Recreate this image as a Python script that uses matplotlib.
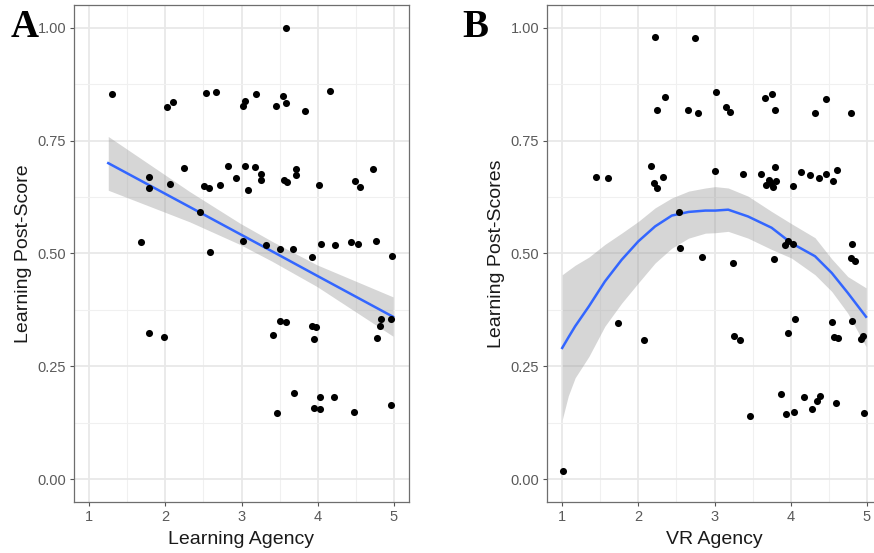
import numpy as np
import matplotlib.pyplot as plt
from matplotlib.ticker import MultipleLocator

# panel A: learning agency vs post-score
agency_a = [1.30, 3.58, 2.53, 2.67, 2.02, 2.10, 3.02, 3.04, 3.19, 3.45, 3.55, 3.58, 3.84, 4.16,
            1.79, 1.79, 2.06, 2.25, 2.51, 2.57, 2.72, 2.82, 2.93, 3.04, 3.08, 3.18, 3.26, 3.26,
            3.56, 3.60, 3.71, 3.72, 4.02, 4.49, 4.56, 4.73,
            2.45, 1.68, 2.59, 3.02, 3.32, 3.51, 3.67, 3.92, 4.04, 4.23, 4.44, 4.53, 4.76, 4.98,
            1.78, 1.98, 3.41, 3.50, 3.58, 3.92, 3.98, 3.95, 4.83, 4.82, 4.96, 4.78,
            3.69, 4.03, 4.21, 3.95, 4.03, 3.47, 4.48, 4.96]
score_a = [0.853, 0.998, 0.856, 0.857, 0.824, 0.835, 0.827, 0.837, 0.852, 0.826, 0.849, 0.832, 0.816, 0.859,
           0.669, 0.644, 0.654, 0.690, 0.649, 0.646, 0.652, 0.694, 0.668, 0.693, 0.641, 0.692, 0.675, 0.662,
           0.663, 0.659, 0.687, 0.673, 0.651, 0.660, 0.647, 0.687,
           0.592, 0.526, 0.504, 0.528, 0.519, 0.509, 0.509, 0.493, 0.520, 0.519, 0.525, 0.520, 0.527, 0.495,
           0.325, 0.316, 0.320, 0.351, 0.348, 0.340, 0.338, 0.311, 0.354, 0.340, 0.356, 0.314,
           0.191, 0.182, 0.182, 0.159, 0.155, 0.148, 0.150, 0.165]

# linear smooth of panel A
fit_x_a = [1.25, 2.32, 2.98, 3.40, 3.99, 4.99]
fit_y_a = [0.700, 0.603, 0.543, 0.505, 0.451, 0.360]
fit_hi_a = [0.759, 0.637, 0.567, 0.527, 0.475, 0.404]
fit_lo_a = [0.640, 0.570, 0.520, 0.483, 0.427, 0.317]

# panel B: VR agency vs post-scores
agency_b = [2.22, 2.75, 3.02, 2.35, 2.25, 2.65, 2.78, 3.15, 3.21, 3.66, 3.76, 3.80, 4.32, 4.46, 4.79,
            1.44, 1.60, 2.17, 2.21, 2.25, 2.33, 3.00, 3.38, 3.61, 3.67, 3.72, 3.74, 3.77, 3.80, 3.81,
            4.03, 4.13, 4.26, 4.37, 4.46, 4.56, 4.61,
            2.53, 2.55, 2.83, 3.24, 3.78, 3.93, 3.96, 4.03, 4.81, 4.79, 4.84,
            1.01, 1.73, 2.07, 3.26, 3.33, 3.96, 4.06, 4.54, 4.57, 4.62, 4.80, 4.95, 4.93,
            3.87, 4.18, 4.38, 4.35, 4.28, 4.05, 3.94, 3.47, 4.59, 4.96]
score_b = [0.980, 0.978, 0.857, 0.847, 0.817, 0.818, 0.811, 0.825, 0.814, 0.844, 0.853, 0.818, 0.812, 0.842, 0.812,
           0.670, 0.666, 0.694, 0.655, 0.645, 0.669, 0.682, 0.676, 0.675, 0.652, 0.663, 0.657, 0.647, 0.692, 0.661,
           0.649, 0.681, 0.673, 0.667, 0.675, 0.661, 0.684,
           0.592, 0.512, 0.492, 0.478, 0.487, 0.519, 0.528, 0.520, 0.520, 0.489, 0.484,
           0.019, 0.346, 0.309, 0.318, 0.309, 0.323, 0.354, 0.349, 0.316, 0.313, 0.351, 0.318, 0.311,
           0.190, 0.182, 0.185, 0.174, 0.155, 0.150, 0.145, 0.141, 0.169, 0.146]

# loess smooth of panel B
fit_x_b = [1.00, 1.08, 1.17, 1.35, 1.56, 1.78, 2.00, 2.22, 2.44, 2.66, 2.88, 3.01, 3.18,
           3.44, 3.75, 4.01, 4.32, 4.54, 4.75, 4.99]
fit_y_b = [0.291, 0.314, 0.339, 0.383, 0.438, 0.486, 0.527, 0.560, 0.584, 0.592, 0.595, 0.595, 0.597,
           0.582, 0.557, 0.523, 0.494, 0.457, 0.413, 0.360]
fit_hi_b = [0.453, 0.463, 0.474, 0.492, 0.520, 0.545, 0.571, 0.601, 0.623, 0.638, 0.645, 0.648, 0.645,
            0.627, 0.593, 0.566, 0.535, 0.488, 0.449, 0.424]
fit_lo_b = [0.132, 0.185, 0.225, 0.272, 0.339, 0.390, 0.435, 0.479, 0.512, 0.534, 0.545, 0.546, 0.549,
            0.534, 0.509, 0.490, 0.453, 0.416, 0.368, 0.294]

plt.rcParams['font.family'] = ['Liberation Sans', 'DejaVu Sans']
fig = plt.figure(figsize=(8.74, 5.53), dpi=100)
W, H = 874, 553


def style(ax, xlabel, ylabel):
    ax.set_xlim(0.8, 5.2)
    ax.set_ylim(-0.05, 1.05)
    ax.set_xticks([1, 2, 3, 4, 5])
    ax.set_yticks([0, 0.25, 0.5, 0.75, 1.0])
    ax.set_yticklabels(["0.00", "0.25", "0.50", "0.75", "1.00"])
    ax.xaxis.set_minor_locator(MultipleLocator(0.5))
    ax.yaxis.set_minor_locator(MultipleLocator(0.125))
    ax.grid(which='major', color='#e8e8e8', lw=1.3)
    ax.grid(which='minor', color='#f0f0f0', lw=0.8)
    ax.set_axisbelow(True)
    ax.tick_params(which='major', length=3, width=0.8, color='#555555',
                   labelsize=10.5, labelcolor='#5a5a5a', pad=2.5)
    ax.tick_params(which='minor', length=0)
    for sp in ax.spines.values():
        sp.set_color('#6e6e6e')
        sp.set_linewidth(0.9)
    ax.set_xlabel(xlabel, fontsize=14, labelpad=5, color='#1a1a1a')
    ax.set_ylabel(ylabel, fontsize=14, labelpad=4, color='#1a1a1a')


axA = fig.add_axes([74 / W, 51 / H, 335 / W, 497 / H])
axA.fill_between(fit_x_a, fit_lo_a, fit_hi_a, color='#999999', alpha=0.4, lw=0, zorder=2)
axA.plot(fit_x_a, fit_y_a, color='#3366ff', lw=1.8, zorder=3)
axA.scatter(agency_a, score_a, s=26, color='black', lw=0, zorder=4)
style(axA, "Learning Agency", "Learning Post-Score")

axB = fig.add_axes([547 / W, 51 / H, 335 / W, 497 / H])
axB.fill_between(fit_x_b, fit_lo_b, fit_hi_b, color='#999999', alpha=0.4, lw=0, zorder=2)
axB.plot(fit_x_b, fit_y_b, color='#3366ff', lw=1.8, zorder=3)
axB.scatter(agency_b, score_b, s=26, color='black', lw=0, zorder=4)
style(axB, "VR Agency", "Learning Post-Scores")

fig.text(11 / W, 1 - 37 / H, "A", fontsize=28, fontweight='bold',
         family='Liberation Serif', va='baseline', ha='left')
fig.text(462 / W, 1 - 37 / H, "B", fontsize=28, fontweight='bold',
         family='Liberation Serif', va='baseline', ha='left')

fig.savefig("out.png", dpi=100)
